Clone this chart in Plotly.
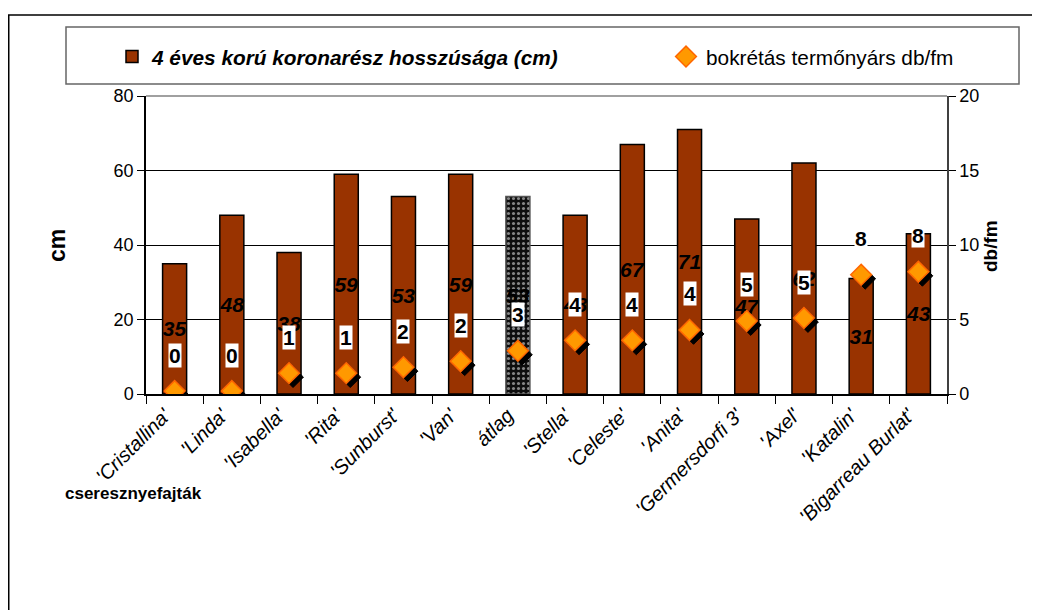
import plotly.graph_objects as go

categories = ["'Cristallina'", "'Linda'", "'Isabella'", "'Rita'", "'Sunburst'", "'Van'", "átlag",
              "'Stella'", "'Celeste'", "'Anita'", "'Germersdorfi 3'", "'Axel'", "'Katalin'", "'Bigarreau Burlat'"]
length_cm = [35, 48, 38, 59, 53, 59, 53, 48, 67, 71, 47, 62, 31, 43]
spurs_db_fm = [0.2, 0.2, 1.4, 1.4, 1.8, 2.2, 2.9, 3.6, 3.6, 4.3, 4.9, 5.1, 8.0, 8.2]
y_ticks_left = [0, 20, 40, 60, 80]
y_ticks_right = [0, 5, 10, 15, 20]

OFF = 8  # page body margin
W, H = 1032, 602
L, R, T, B = 146 - OFF, 947 - OFF, 96 - OFF, 394 - OFF
pw, ph = R - L, B - T
FONT = "Liberation Sans, Arial, sans-serif"


def px(x):
    return (x - OFF - L) / pw


def py(y):
    return (B - (y - OFF)) / ph


n = len(categories)
cat_w = pw / n
avg_idx = categories.index("átlag")
bar_colors = ["#993300"] * n
bar_colors[avg_idx] = "#0d0d0d"
line_colors = ["black"] * n
line_colors[avg_idx] = "#555555"
patterns = [""] * n
patterns[avg_idx] = "."

fig = go.Figure()
fig.add_trace(go.Bar(
    x=categories, y=length_cm, name="<b><i>4 éves korú koronarész hosszúsága (cm)</i></b>",
    marker=dict(color=bar_colors, line=dict(color=line_colors, width=1.5),
                pattern=dict(shape=patterns, fgcolor="#4a4a4a", fillmode="overlay", size=5, solidity=0.3)),
    width=0.42,
    texttemplate="%{y:.0f}", textposition="inside", insidetextanchor="middle", textangle=0,
    textfont=dict(family=FONT, size=21, color="black", weight="bold", style="italic"),
    cliponaxis=False, legend="legend",
    xaxis="x", yaxis="y",
))
# shadow of diamonds (drawn through an offset overlay axis pair)
shift_x = 4 / cat_w
shift_y = 4 / ph * 20
fig.add_trace(go.Scatter(
    x=categories, y=spurs_db_fm, mode="markers", showlegend=False, hoverinfo="skip",
    marker=dict(symbol="diamond", size=16, color="black", line=dict(color="black", width=1)),
    xaxis="x2", yaxis="y2",
))
fig.add_trace(go.Scatter(
    x=categories, y=spurs_db_fm, mode="markers", name="bokrétás termőnyárs db/fm",
    marker=dict(symbol="diamond", size=16, color="#FF9900", line=dict(color="#FF6600", width=1.5)),
    xaxis="x3", yaxis="y3", legend="legend2",
))

annotations = []
for c, v in zip(categories, spurs_db_fm):
    annotations.append(dict(x=c, y=v, xref="x3", yref="y3", yshift=36, text=f"{v:.0f}",
                            showarrow=False, bgcolor="white", borderpad=0,
                            font=dict(family=FONT, size=21, color="black", weight="bold")))
annotations += [
    dict(x=px(57), y=py(246), xref="paper", yref="paper", text="<b>cm</b>", textangle=-90, showarrow=False,
         xanchor="center", yanchor="middle", font=dict(family=FONT, size=23, color="black")),
    dict(x=px(990), y=py(246), xref="paper", yref="paper", text="<b>db/fm</b>", textangle=-90, showarrow=False,
         xanchor="center", yanchor="middle", font=dict(family=FONT, size=19, color="black")),
    dict(x=px(63), y=py(493), xref="paper", yref="paper", text="<b>cseresznyefajták</b>", xanchor="left",
         yanchor="middle", showarrow=False, font=dict(family=FONT, size=17, color="black")),
]

shapes = [
    dict(type="rect", xref="paper", yref="paper", x0=px(8.75), x1=px(1070), y0=py(650), y1=py(15),
         line=dict(color="black", width=1.5), layer="below"),
    dict(type="rect", xref="paper", yref="paper", x0=px(66), x1=px(1019), y0=py(84), y1=py(27),
         line=dict(color="#666666", width=1.5), layer="below"),
    dict(type="line", xref="paper", yref="paper", x0=0, x1=1, y0=1, y1=1,
         line=dict(color="#808080", width=1.5)),
]

legend_common = dict(orientation="h", yanchor="middle", y=py(57), xanchor="left",
                     font=dict(family=FONT, size=20.8, color="black"), bgcolor="rgba(0,0,0,0)")

fig.update_layout(
    width=W, height=H,
    margin=dict(l=L, r=W - R, t=T, b=H - B),
    paper_bgcolor="white", plot_bgcolor="white",
    font=dict(family=FONT, color="black"),
    uniformtext=dict(mode="show", minsize=21),
    showlegend=True,
    legend=dict(x=px(112), **legend_common),
    legend2=dict(x=px(666), **legend_common),
    xaxis=dict(type="category", categoryarray=categories, range=[-0.5, n - 0.5],
               showline=True, linecolor="black", linewidth=1.5, tickson="boundaries",
               ticks="outside", ticklen=8, tickcolor="black", tickwidth=1,
               tickangle=-45, ticklabelshift=-10,
               tickfont=dict(family=FONT, size=20, color="black", style="italic"),
               showgrid=False),
    yaxis=dict(range=[0, 80], tickvals=y_ticks_left, showline=True, linecolor="black", linewidth=1.5,
               ticks="outside", ticklen=7, tickcolor="black", showgrid=True, gridcolor="black",
               gridwidth=1, zeroline=False, tickfont=dict(family=FONT, size=18, color="black")),
    xaxis2=dict(type="category", categoryarray=categories, overlaying="x", visible=False,
                range=[-0.5 - shift_x, n - 0.5 - shift_x]),
    yaxis2=dict(range=[shift_y, 20 + shift_y], overlaying="y", visible=False),
    xaxis3=dict(type="category", categoryarray=categories, overlaying="x", visible=False,
                range=[-0.5, n - 0.5]),
    yaxis3=dict(range=[0, 20], tickvals=y_ticks_right, overlaying="y", side="right", showline=True,
                linecolor="#404040", linewidth=1.5, ticks="outside", ticklen=7, tickcolor="black",
                showgrid=False, zeroline=False, tickfont=dict(family=FONT, size=18, color="black")),
    annotations=annotations, shapes=shapes,
)
fig.write_html("out.html")
